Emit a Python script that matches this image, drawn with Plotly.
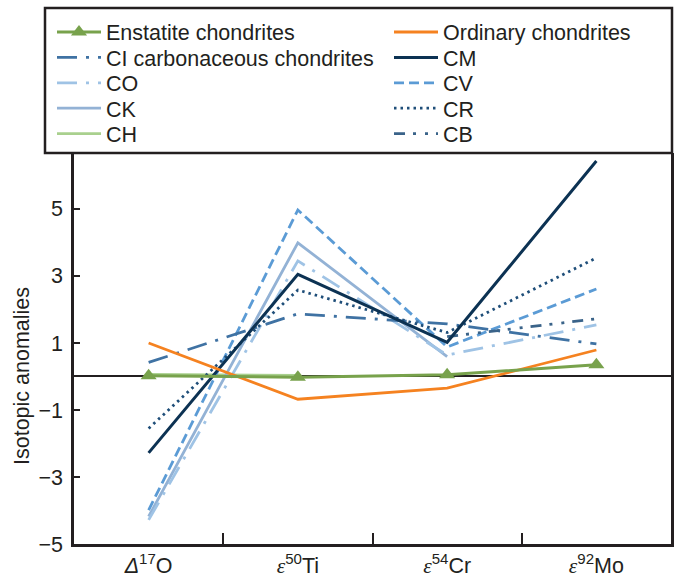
import plotly.graph_objects as go

# Isotope systems shown along the x axis
isotopes = [
    "<i>Δ</i><sup>17</sup>O",
    "<i style='font-family:Liberation Serif'>ε</i><sup>50</sup>Ti",
    "<i style='font-family:Liberation Serif'>ε</i><sup>54</sup>Cr",
    "<i style='font-family:Liberation Serif'>ε</i><sup>92</sup>Mo",
]

# Mean isotopic anomalies for each meteorite group
enstatite = [0.02, -0.02, 0.05, 0.35]
ordinary = [1.00, -0.68, -0.35, 0.79]
ci = [0.42, 1.87, 1.57, 0.97]
cm = [-2.28, 3.05, 1.02, 6.43]
co = [-4.28, 3.45, 0.64, 1.54]
cv = [-3.99, 4.97, 0.88, 2.61]
ck = [-4.18, 3.99, 0.59, None]
cr = [-1.55, 2.58, 1.31, 3.54]
ch = [0.06, 0.03, None, None]
cb = [None, None, 1.19, 1.72]

y_ticks = [-5, -3, -1, 1, 3, 5]

W, H = 682, 577
ML, MR, MT, MB = 74, 11, 153, 33
PW, PH = W - ML - MR, H - MT - MB

TEXT = "#231f20"
FONT = "Liberation Sans, Arial, Helvetica, sans-serif"
FS = 21.5

# name, values, colour, dash, width, legend column, legend row
series = [
    ("Enstatite chondrites", enstatite, "#78a24c", "solid", 3.0, 0, 0),
    ("Ordinary chondrites", ordinary, "#f58220", "solid", 2.8, 1, 0),
    ("CI carbonaceous chondrites", ci, "#3f72a3", "20px,9px,3px,9px", 2.8, 0, 1),
    ("CM", cm, "#0c3253", "solid", 3.0, 1, 1),
    ("CO", co, "#9fc3e5", "20px,9px,3px,9px", 2.8, 0, 2),
    ("CV", cv, "#5b9bd5", "10px,5px", 2.8, 1, 2),
    ("CK", ck, "#93b2d5", "solid", 2.8, 0, 3),
    ("CR", cr, "#1f4e79", "2.5px,4px", 2.8, 1, 3),
    ("CH", ch, "#a9d08e", "solid", 2.8, 0, 4),
    ("CB", cb, "#3a6389", "11px,8px,3px,9px,3px,8px", 2.8, 1, 4),
]

row_px = [32, 57.4, 82.8, 108.2, 133.6]
col_px = [52, 389]

fig = go.Figure()
draw_order = ["CH", "CK", "CO", "CV", "CI carbonaceous chondrites", "CR", "CB",
              "CM", "Ordinary chondrites", "Enstatite chondrites"]
lookup = {s[0]: s for s in series}
legend_ids = {}
layout_legends = {}
for i, s in enumerate(series):
    lid = "legend" if i == 0 else f"legend{i + 1}"
    legend_ids[s[0]] = lid
    name, vals, color, dash, width, col, row = s
    layout_legends[lid] = dict(
        x=(col_px[col] - ML) / PW,
        y=(H - MB - row_px[row]) / PH,
        xanchor="left",
        yanchor="middle",
        bgcolor="rgba(0,0,0,0)",
        borderwidth=0,
        itemwidth=44,
        font=dict(family=FONT, size=FS, color=TEXT),
    )

for name in draw_order:
    _, vals, color, dash, width, col, row = lookup[name]
    is_e = name == "Enstatite chondrites"
    fig.add_trace(go.Scatter(
        x=isotopes,
        y=vals,
        name=name,
        mode="lines+markers" if is_e else "lines",
        line=dict(color=color, width=width, dash=dash),
        marker=dict(symbol="triangle-up", size=14, color=color) if is_e else None,
        legend=legend_ids[name],
        connectgaps=False,
        hoverinfo="skip",
    ))

# Box framing the key above the plot
fig.add_shape(
    type="rect", xref="paper", yref="paper",
    x0=(45 - ML) / PW, x1=(672 - ML) / PW,
    y0=1.0, y1=(H - MB - 8) / PH,
    line=dict(color=TEXT, width=2.5), fillcolor="white", layer="below",
)

fig.add_annotation(
    text="Isotopic anomalies", textangle=-90,
    xref="paper", yref="paper",
    x=(22 - ML) / PW, y=(H - MB - 376) / PH,
    xanchor="center", yanchor="middle", showarrow=False,
    font=dict(family=FONT, size=FS, color=TEXT),
)

fig.update_layout(
    width=W, height=H,
    margin=dict(l=ML, r=MR, t=MT, b=MB, pad=0, autoexpand=False),
    paper_bgcolor="white", plot_bgcolor="white",
    font=dict(family=FONT, size=FS, color=TEXT),
    showlegend=True,
    **layout_legends,
)

fig.update_xaxes(
    type="category", categoryorder="array", categoryarray=isotopes,
    range=[-0.5, 3.5], tickson="boundaries",
    ticks="inside", ticklen=11, tickwidth=2, tickcolor=TEXT,
    showline=True, linecolor=TEXT, linewidth=2.5, mirror=False,
    showgrid=False, zeroline=False, automargin=False,
    tickfont=dict(family=FONT, size=FS, color=TEXT),
)

fig.update_yaxes(
    range=[-5, 6.67], tickvals=y_ticks,
    ticks="inside", ticklen=6, tickwidth=2, tickcolor=TEXT,
    showline=True, linecolor=TEXT, linewidth=2.5, mirror=True,
    showgrid=False, automargin=False,
    zeroline=True, zerolinecolor=TEXT, zerolinewidth=2,
    ticklabelstandoff=4,
    tickfont=dict(family=FONT, size=FS, color=TEXT),
)

fig.write_html("out.html")
